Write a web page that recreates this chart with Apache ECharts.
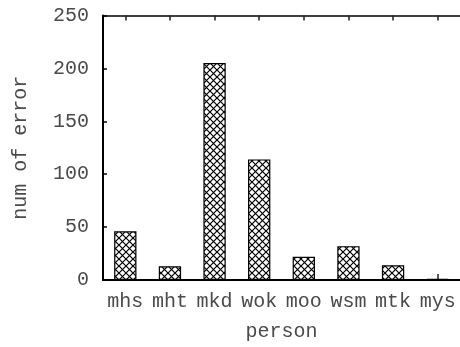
<!DOCTYPE html>
<html>
<head>
<meta charset="utf-8">
<style>
  html, body { margin: 0; padding: 0; background: #fff; }
  #chart { width: 460px; height: 347px; }
</style>
<script src="https://cdn.jsdelivr.net/npm/echarts@6/dist/echarts.min.js"></script>
</head>
<body>
<div id="chart"></div>
<script>
// Error counts per person
const persons = ['mhs', 'mht', 'mkd', 'wok', 'moo', 'wsm', 'mtk', 'mys'];
const errorCounts = [46, 13, 205, 114, 22, 32, 14, 1];
const yTicks = [0, 50, 100, 150, 200, 250];

const FONT = "'Liberation Mono', 'DejaVu Sans Mono', monospace";
const TEXT_COLOR = '#4a4a4a';

// Crosshatch fill: two diagonal strokes on a small repeating tile
function crosshatch(size) {
  const c = document.createElement('canvas');
  c.width = size; c.height = size;
  const g = c.getContext('2d');
  g.fillStyle = '#fff';
  g.fillRect(0, 0, size, size);
  g.strokeStyle = '#000';
  g.lineWidth = 1.2;
  g.beginPath();
  g.moveTo(0, 0); g.lineTo(size, size);
  g.moveTo(size, 0); g.lineTo(0, size);
  g.stroke();
  return c;
}

const chart = echarts.init(document.getElementById('chart'), null, { renderer: 'canvas' });

chart.setOption({
  animation: false,
  grid: { left: 103, top: 15.5, width: 362, height: 265 },
  xAxis: [
    {
      type: 'category',
      data: persons,
      position: 'bottom',
      name: 'person',
      nameLocation: 'middle',
      nameGap: 42,
      nameTextStyle: { fontFamily: FONT, fontSize: 20, color: TEXT_COLOR },
      axisLine: { lineStyle: { color: '#000', width: 2 } },
      axisTick: { show: true, inside: true, alignWithLabel: true, length: 6, lineStyle: { color: '#222', width: 1.5 } },
      axisLabel: { interval: 0, fontFamily: FONT, fontSize: 20, color: TEXT_COLOR, margin: 12 },
      splitLine: { show: false }
    },
    {
      type: 'category',
      data: persons,
      position: 'top',
      axisLine: { lineStyle: { color: '#000', width: 1.5 } },
      axisTick: { show: true, inside: true, alignWithLabel: true, length: 5, lineStyle: { color: '#222', width: 1.5 } },
      axisLabel: { show: false },
      splitLine: { show: false }
    }
  ],
  yAxis: {
    type: 'value',
    min: yTicks[0],
    max: yTicks[yTicks.length - 1],
    interval: yTicks[1] - yTicks[0],
    name: 'num of error',
    nameLocation: 'middle',
    nameGap: 72,
    nameTextStyle: { fontFamily: FONT, fontSize: 20, color: TEXT_COLOR },
    axisLine: { show: true, lineStyle: { color: '#000', width: 2 } },
    axisTick: { show: true, inside: true, length: 4, lineStyle: { color: '#000', width: 1.5 } },
    axisLabel: { fontFamily: FONT, fontSize: 20, color: TEXT_COLOR, margin: 14 },
    splitLine: { show: false }
  },
  series: [{
    type: 'bar',
    data: errorCounts,
    barWidth: '50%',
    itemStyle: {
      color: { image: crosshatch(7), repeat: 'repeat' },
      borderColor: '#000',
      borderWidth: 1.2
    }
  }]
});
</script>
</body>
</html>
